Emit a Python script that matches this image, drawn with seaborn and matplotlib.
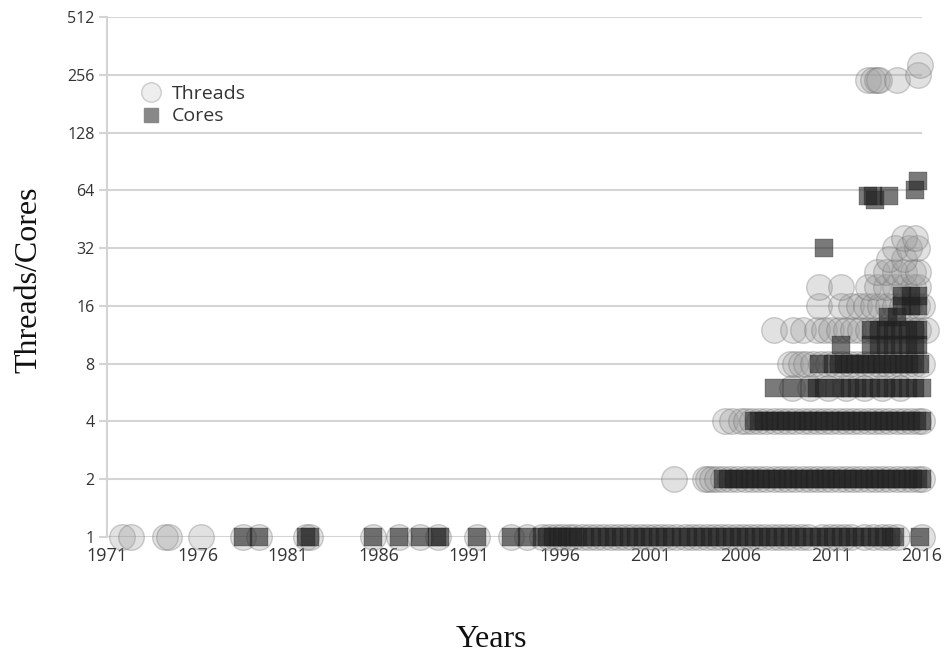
import matplotlib
matplotlib.use("Agg")
import matplotlib.pyplot as plt
import seaborn as sns
import pandas as pd
from matplotlib.lines import Line2D

# ---------------- data ----------------
# Threads: years at which a processor with the given thread count appears
threads_1 = [1971.8, 1972.3, 1974.2, 1974.4, 1976.2, 1978.5, 1979.4, 1982.0, 1982.2,
             1985.7, 1987.1, 1988.3, 1989.3, 1991.4, 1993.3, 1994.2,
             1995.0, 1995.4, 1995.8, 1996.1, 1996.5, 1996.8, 1997.2, 1997.6, 1998.0,
             1998.4, 1998.8, 1999.2, 1999.6, 2000.0, 2000.4, 2000.8, 2001.2, 2001.6,
             2002.0, 2002.4, 2002.9, 2003.3, 2003.7, 2004.1, 2004.5, 2004.9, 2005.3,
             2005.7, 2006.1, 2006.5, 2006.9, 2007.3, 2007.7, 2008.1, 2008.5, 2008.9,
             2009.3, 2009.7, 2010.5, 2010.9, 2011.3, 2011.7, 2012.1, 2012.8, 2013.3,
             2013.8, 2014.2, 2014.6, 2016.0]
threads_2 = [2002.3, 2004.0, 2004.2, 2004.4, 2004.7, 2005.0, 2005.4, 2005.8, 2006.2,
             2006.6, 2007.0, 2007.4, 2007.8, 2008.2, 2008.6, 2009.0, 2009.4, 2009.8,
             2010.2, 2010.6, 2011.0, 2011.4, 2011.8, 2012.2, 2012.6, 2013.0, 2013.4,
             2013.8, 2014.2, 2014.6, 2015.0, 2015.4, 2015.8, 2016.0]
threads_4 = [2005.1, 2005.5, 2006.0, 2006.3, 2006.6, 2007.0, 2007.4, 2007.8, 2008.2,
             2008.6, 2009.0, 2009.4, 2009.8, 2010.2, 2010.6, 2011.0, 2011.4, 2011.8,
             2012.2, 2012.6, 2013.0, 2013.4, 2013.8, 2014.2, 2014.6, 2015.0, 2015.4,
             2015.8, 2016.0]
threads_6 = [2008.8, 2009.8, 2010.8, 2011.8, 2012.8, 2013.8, 2014.8]
threads_8 = [2008.7, 2009.0, 2009.3, 2009.6, 2010.0, 2010.4, 2010.8, 2011.2, 2011.6,
             2012.0, 2012.4, 2012.8, 2013.2, 2013.6, 2014.0, 2014.4, 2014.8, 2015.2,
             2015.6, 2016.0]
threads_12 = [2007.8, 2008.9, 2009.4, 2010.2, 2010.6, 2011.0, 2011.4, 2011.8, 2012.2,
              2012.6, 2013.0, 2013.4, 2013.8, 2014.2, 2014.6, 2015.0, 2015.4, 2015.8,
              2016.2]
threads_16 = [2010.3, 2011.5, 2012.1, 2012.5, 2012.9, 2013.3, 2013.7, 2014.1, 2014.5,
              2014.9, 2015.3, 2015.7, 2016.0]
threads_20 = [2010.3, 2011.5, 2013.0, 2013.5, 2014.0, 2014.5, 2015.0, 2015.5, 2015.8]
threads_24 = [2013.5, 2014.0, 2014.5, 2015.0, 2015.5, 2015.8]
threads_28 = [2014.2, 2015.0]
threads_32 = [2014.5, 2015.3, 2015.7]
threads_36 = [2015.0, 2015.6]
threads_240 = [2013.0, 2013.3, 2013.5, 2013.6, 2014.6]
threads_256 = [2015.8]
threads_288 = [2015.9]

# Cores
cores_1 = [1978.5, 1979.4, 1982.0, 1982.2, 1985.7, 1987.1, 1988.3, 1989.2, 1989.4,
           1991.4, 1993.3, 1994.2,
           1995.0, 1995.3, 1995.6, 1995.9, 1996.1, 1996.4, 1996.7, 1997.0, 1997.4,
           1997.8, 1998.2, 1998.6, 1999.0, 1999.4, 1999.8, 2000.2, 2000.6, 2001.0,
           2001.4, 2001.8, 2002.2, 2002.7, 2003.1, 2003.5, 2003.9, 2004.3, 2004.7,
           2005.1, 2005.5, 2005.9, 2006.3, 2006.7, 2007.1, 2007.5, 2007.9, 2008.3,
           2008.7, 2009.1, 2009.5, 2009.9, 2010.3, 2010.7, 2011.1, 2011.5, 2011.9,
           2012.3, 2012.7, 2013.1, 2013.5, 2013.9, 2014.3, 2014.5, 2015.9]
cores_2 = [2005.0, 2005.3, 2005.6, 2005.9, 2006.2, 2006.5, 2006.8, 2007.1, 2007.4,
           2007.7, 2008.0, 2008.3, 2008.6, 2008.9, 2009.2, 2009.5, 2009.8, 2010.1,
           2010.4, 2010.7, 2011.0, 2011.3, 2011.6, 2011.9, 2012.2, 2012.5, 2012.8,
           2013.1, 2013.4, 2013.7, 2014.0, 2014.3, 2014.6, 2014.9, 2015.2, 2015.5,
           2015.8, 2016.0]
cores_4 = [2006.7, 2007.0, 2007.3, 2007.6, 2007.9, 2008.2, 2008.5, 2008.8, 2009.1,
           2009.4, 2009.7, 2010.0, 2010.3, 2010.6, 2010.9, 2011.2, 2011.5, 2011.8,
           2012.1, 2012.4, 2012.7, 2013.0, 2013.3, 2013.6, 2013.9, 2014.2, 2014.5,
           2014.8, 2015.1, 2015.4, 2015.7, 2016.0]
cores_6 = [2007.8, 2008.8, 2009.8, 2010.2, 2010.6, 2011.2, 2011.6, 2012.0, 2012.4,
           2012.8, 2013.2, 2013.6, 2014.0, 2014.4, 2014.8, 2015.2, 2015.6, 2016.0]
cores_8 = [2010.3, 2011.1, 2011.4, 2011.7, 2012.0, 2012.3, 2012.6, 2012.9, 2013.2,
           2013.5, 2013.8, 2014.1, 2014.4, 2014.7, 2015.0, 2015.3, 2015.6, 2015.9]
cores_10 = [2011.5, 2013.2, 2013.6, 2014.0, 2014.4, 2014.8, 2015.2, 2015.6, 2015.8]
cores_12 = [2013.2, 2013.6, 2014.0, 2014.4, 2014.8, 2015.2, 2015.6, 2015.8]
cores_14 = [2014.1, 2014.6]
cores_16 = [2014.9, 2015.4, 2015.8]
cores_18 = [2014.9, 2015.4, 2015.8]
cores_32 = [2010.6]
cores_60 = [2013.0, 2013.3, 2014.2]
cores_57 = [2013.4]
cores_64 = [2015.6]
cores_72 = [2015.8]

y_ticks = [1, 2, 4, 8, 16, 32, 64, 128, 256, 512]
x_ticks = [1971, 1976, 1981, 1986, 1991, 1996, 2001, 2006, 2011, 2016]

threads_levels = {1: threads_1, 2: threads_2, 4: threads_4, 6: threads_6, 8: threads_8,
                  12: threads_12, 16: threads_16, 20: threads_20, 24: threads_24,
                  28: threads_28, 32: threads_32, 36: threads_36, 240: threads_240,
                  256: threads_256, 288: threads_288}
cores_levels = {1: cores_1, 2: cores_2, 4: cores_4, 6: cores_6, 8: cores_8, 10: cores_10,
                12: cores_12, 14: cores_14, 16: cores_16, 18: cores_18, 32: cores_32,
                57: cores_57, 60: cores_60, 64: cores_64, 72: cores_72}


def to_frame(levels):
    rows = [(yr, val) for val, yrs in levels.items() for yr in yrs]
    return pd.DataFrame(rows, columns=["year", "count"])


df_threads = to_frame(threads_levels)
df_cores = to_frame(cores_levels)

# ---------------- plot ----------------
sns.set_theme(style="white")
plt.rcParams["font.family"] = ["Open Sans", "DejaVu Sans"]

fig = plt.figure(figsize=(9.49, 6.54), dpi=100)
ax = fig.add_axes([0.1128, 0.1789, 0.8588, 0.7951])

ax.set_yscale("log", base=2)

sns.scatterplot(data=df_threads, x="year", y="count", ax=ax, marker="o", s=340,
                color="#9c9c9c", edgecolor="#666666", linewidth=1.0, alpha=0.3,
                clip_on=False, zorder=3, legend=False)
sns.scatterplot(data=df_cores, x="year", y="count", ax=ax, marker="s", s=150,
                color="#222222", edgecolor="#222222", linewidth=0.3, alpha=0.6,
                clip_on=False, zorder=4, legend=False)

ax.set_xlim(1971, 2016)
ax.set_ylim(1, 512)
ax.set_yticks(y_ticks)
ax.set_yticklabels([str(v) for v in y_ticks])
ax.set_xticks(x_ticks)
ax.set_xticklabels([str(v) for v in x_ticks])
ax.minorticks_off()

ax.grid(axis="y", color="#d4d4d4", linewidth=1.5, zorder=0)
ax.grid(axis="x", visible=False)
ax.set_axisbelow(True)
for side in ["top", "right", "bottom"]:
    ax.spines[side].set_visible(False)
ax.spines["left"].set_color("#d4d4d4")
ax.spines["left"].set_linewidth(1.5)

ax.tick_params(axis="y", which="major", left=True, length=6, width=1.5, color="#d4d4d4",
               labelsize=11.5, labelcolor="#333333", pad=3)
ax.tick_params(axis="x", which="major", bottom=False, labelsize=13,
               labelcolor="#333333", pad=1)

ax.set_xlabel("")
ax.set_ylabel("")
fig.text(0.031, 0.572, "Threads/Cores", rotation=90, ha="center", va="center",
         fontsize=23, family=["Liberation Serif", "DejaVu Serif"], color="#111111")
fig.text(0.518, 0.022, "Years", ha="center", va="center",
         fontsize=23, family=["Liberation Serif", "DejaVu Serif"], color="#111111")

handles = [
    Line2D([], [], marker="o", linestyle="none", markersize=14,
           markerfacecolor="#eeeeee", markeredgecolor="#cccccc", markeredgewidth=1.0),
    Line2D([], [], marker="s", linestyle="none", markersize=10,
           markerfacecolor="#888888", markeredgecolor="#888888"),
]
leg = ax.legend(handles, ["Threads", "Cores"], loc="upper left",
                bbox_to_anchor=(0.02, 0.885), frameon=False, fontsize=14,
                handletextpad=0.1, labelspacing=0.25, borderaxespad=0)
for t in leg.get_texts():
    t.set_color("#333333")

fig.savefig("out.png", dpi=100)
